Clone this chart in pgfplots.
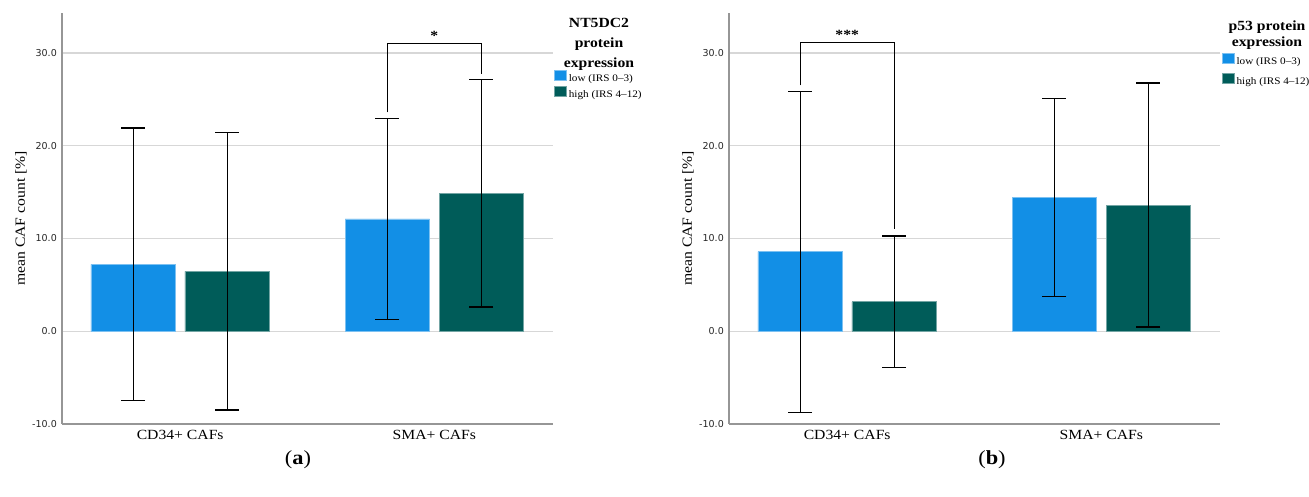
\documentclass[border=0pt]{standalone}
\usepackage{pgfplots}
\pgfplotsset{compat=1.18}
\usepackage{fontspec}
\setmainfont{Liberation Serif}[FakeStretch=1.12]
\newfontfamily\tickfont{DejaVu Sans}
\definecolor{lowblue}{RGB}{18,143,230}
\definecolor{highteal}{RGB}{0,92,89}
\definecolor{gridgray}{RGB}{215,215,215}
\definecolor{axisgray}{RGB}{150,150,150}
\pgfplotsset{cafstyle/.style={
  scale only axis, width=491pt, height=411pt,
  xmin=-0.465, xmax=1.467, ymin=-10, ymax=34.3,
  axis x line*=bottom, axis y line*=left,
  axis line style={axisgray, line width=1.2pt},
  xtick={0,1}, xticklabels={CD34+ CAFs, SMA+ CAFs},
  ytick={-10,0,10,20,30},
  major tick length=0pt,
  ymajorgrids, grid style={gridgray, line width=1.3pt},
  yticklabel style={font=\tickfont\fontsize{9.5}{10}\selectfont, inner sep=0pt, xshift=-5pt, text=black!85,
    /pgf/number format/fixed, /pgf/number format/fixed zerofill, /pgf/number format/precision=1,
    /pgf/number format/assume math mode=true},
  xticklabel style={font=\fontsize{14}{14}\selectfont, inner sep=0pt, yshift=-6pt},
  ylabel={mean CAF count [\%]},
  ylabel style={at={(axis description cs:-0.0835,0.5)}, anchor=center, font=\fontsize{14}{14}\selectfont},
  ybar, bar width=84.5pt,
  error bars/y dir=both, error bars/y explicit,
  error bars/error bar style={black, line width=1.2pt},
  error bars/error mark options={black, line width=1.2pt, mark size=12pt, rotate=90},
  clip=false,
  legend cell align=left,
  legend image code/.code={\fill[##1] (0pt,-2pt) rectangle (12pt,8pt);},
  legend style={draw=none, fill=none, inner sep=0pt, column sep=2pt,
    nodes={inner sep=0pt, text height=8pt, text depth=2pt},
    font=\fontsize{10}{10}\selectfont, anchor=north west},
}}
\begin{document}
\begin{tikzpicture}
\useasboundingbox (0pt,0pt) rectangle (1309pt,497pt);
% ---------- panel (a)
\begin{axis}[cafstyle, at={(62pt,73pt)}, anchor=south west,
  legend style={at={(axis description cs:1.002,0.861)}, row sep=2.5pt}]
\addplot[fill=lowblue, draw=lowblue!55!white, line width=0.7pt, bar shift=-47pt] coordinates {(0,7.2) +- (0,14.7) (1,12.1) +- (0,10.85)};
\addplot[fill=highteal, draw=highteal!55!white, line width=0.7pt, bar shift=47pt] coordinates {(0,6.45) +- (0,14.95) (1,14.85) +- (0,12.25)};
\legend{low (IRS 0--3), high (IRS 4--12)}
\draw[black, line width=1.1pt] (axis cs:0.815,23.6) |- (axis cs:1.185,31.0) -- (axis cs:1.185,27.7);
\node[anchor=base, font=\bfseries\fontsize{14}{14}\selectfont, inner sep=0pt, yshift=3.5pt] at (axis cs:1,31.0) {*};
\end{axis}
\node[anchor=base, font=\bfseries\fontsize{14}{14}\selectfont, inner sep=0pt] at (599pt,469pt) {NT5DC2};
\node[anchor=base, font=\bfseries\fontsize{14}{14}\selectfont, inner sep=0pt] at (599pt,449.5pt) {protein};
\node[anchor=base, font=\bfseries\fontsize{14}{14}\selectfont, inner sep=0pt] at (599pt,429pt) {expression};
\node[font=\fontsize{20}{20}\selectfont] at (298pt,37pt) {(\textbf{a})};
% ---------- panel (b)
\begin{axis}[cafstyle, at={(729pt,73pt)}, anchor=south west,
  legend style={at={(axis description cs:1.0035,0.9027)}, row sep=6.5pt}]
\addplot[fill=lowblue, draw=lowblue!55!white, line width=0.7pt, bar shift=-47pt] coordinates {(0,8.57) +- (0,17.3) (1,14.4) +- (0,10.67)};
\addplot[fill=highteal, draw=highteal!55!white, line width=0.7pt, bar shift=47pt] coordinates {(0,3.17) +- (0,7.1) (1,13.6) +- (0,13.15)};
\legend{low (IRS 0--3), high (IRS 4--12)}
\draw[black, line width=1.1pt] (axis cs:-0.184,26.5) |- (axis cs:0.186,31.1) -- (axis cs:0.186,10.97);
\node[anchor=base, font=\bfseries\fontsize{14}{14}\selectfont, inner sep=0pt, yshift=3.5pt] at (axis cs:0,31.1) {***};
\end{axis}
\node[anchor=base, font=\bfseries\fontsize{14}{14}\selectfont, inner sep=0pt] at (1267pt,466.5pt) {p53 protein};
\node[anchor=base, font=\bfseries\fontsize{14}{14}\selectfont, inner sep=0pt] at (1267pt,450pt) {expression};
\node[font=\fontsize{20}{20}\selectfont] at (992pt,37pt) {(\textbf{b})};
\end{tikzpicture}
\end{document}
